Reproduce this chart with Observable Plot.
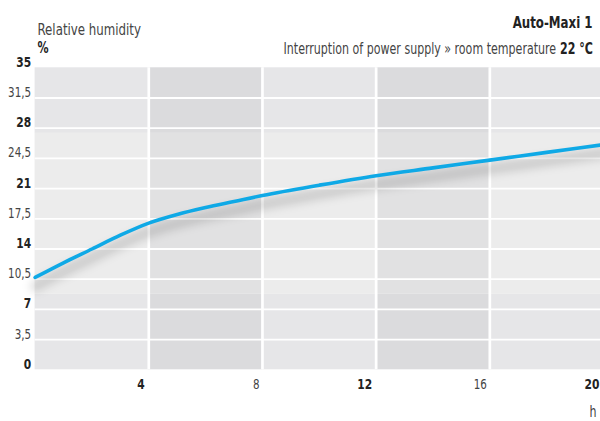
<!DOCTYPE html>
<html>
<head>
<meta charset="utf-8">
<script src="https://cdn.jsdelivr.net/npm/d3@7"></script>
<script src="https://cdn.jsdelivr.net/npm/@observablehq/plot@0.6"></script>
<style>
  html, body { margin: 0; padding: 0; background: #fff; overflow: hidden; }
  #chart svg { display: block; }
</style>
</head>
<body>
<div id="chart"></div>
<script>
// ---- data ----
const hours    = [0, 1, 2, 3, 4, 5, 6, 7, 8, 10, 12, 14, 16, 18, 20];
const humidity = [10.7, 12.4, 14.0, 15.6, 17.0, 18.0, 18.8, 19.5, 20.2, 21.4, 22.5, 23.4, 24.3, 25.2, 26.1];

const xTicksMajor = [4, 12, 20];
const xTicksMinor = [8, 16];
const yTicksMajor = [0, 7, 14, 21, 28, 35];
const yTicksMinor = [3.5, 10.5, 17.5, 24.5, 31.5];
const xBands = [0, 4, 8, 12, 16, 20];
const yBands = [0, 8.8, 27.4, 35];

const title = "Auto-Maxi 1";
const subtitle = "Interruption of power supply » room temperature";
const subtitleBold = "22 °C";
const yLabel = "Relative humidity";
const yUnit = "%";
const xUnit = "h";

// ---- derived tables ----
const points = hours.map((h, i) => ({h, v: humidity[i]}));
const cells = [];
for (let i = 0; i < xBands.length - 1; i++) {
  for (let j = 0; j < yBands.length - 1; j++) {
    cells.push({x1: xBands[i], x2: xBands[i + 1], y1: yBands[j], y2: yBands[j + 1], col: i % 2, row: j === 1 ? 1 : 0});
  }
}
const cellColor = c => c.row ? (c.col ? "#e1e1e2" : "#ececec") : (c.col ? "#dbdbdd" : "#e6e6e8");
const fmt = d => String(d).replace(".", ",");
const FONT = "'Liberation Sans Narrow', 'DejaVu Sans Condensed', 'Roboto', sans-serif";

const plot = Plot.plot({
  width: 600,
  height: 421,
  marginLeft: 34.6,
  marginRight: -3,
  marginTop: 67.3,
  marginBottom: 51.7,
  style: {fontFamily: FONT, background: "#fff", overflow: "visible"},
  x: {domain: [0, 20], axis: null},
  y: {domain: [0, 35], axis: null},
  marks: [
    Plot.rect(cells, {x1: "x1", x2: "x2", y1: "y1", y2: "y2", fill: cellColor}),
    Plot.ruleY([...yTicksMinor, ...yTicksMajor.filter(d => d > 0 && d < 35)], {stroke: "#fff", strokeWidth: 1.8}),
    Plot.ruleX(xTicksMajor.concat(xTicksMinor).filter(d => d < 20), {stroke: "#fff", strokeWidth: 2.7}),
    // shadow
    Plot.line(points, {x: "h", y: "v", curve: "monotone-x", stroke: "#010203", strokeOpacity: 0.14, strokeWidth: 10, dy: 9}),
    Plot.line(points, {x: "h", y: "v", curve: "monotone-x", stroke: "#0fa9e6", strokeWidth: 3.6}),
    // y tick labels
    Plot.text(yTicksMajor, {y: d => d, text: fmt, frameAnchor: "left", textAnchor: "end", lineAnchor: "bottom", dx: -4, dy: -1, fontSize: 14.5, fontWeight: "bold", fill: "#222"}),
    Plot.text(yTicksMinor, {y: d => d, text: fmt, frameAnchor: "left", textAnchor: "end", lineAnchor: "bottom", dx: -4, dy: -1, fontSize: 14, fill: "#444"}),
    // x tick labels
    Plot.text(xTicksMajor, {x: d => d, text: fmt, frameAnchor: "bottom", textAnchor: "end", lineAnchor: "middle", dx: -4, dy: 14.5, fontSize: 14.5, fontWeight: "bold", fill: "#222"}),
    Plot.text(xTicksMinor, {x: d => d, text: fmt, frameAnchor: "bottom", textAnchor: "end", lineAnchor: "middle", dx: -3, dy: 14.5, fontSize: 14, fill: "#444"}),
    // axis units
    Plot.text([xUnit], {text: d => d, frameAnchor: "bottom-right", textAnchor: "end", lineAnchor: "middle", dx: -7, dy: 42, fontSize: 15, fill: "#444"}),
    Plot.text([yLabel], {text: d => d, frameAnchor: "top-left", textAnchor: "start", lineAnchor: "middle", dx: 2.4, dy: -38, fontSize: 16, fill: "#444"}),
    Plot.text([yUnit], {text: d => d, frameAnchor: "top-left", textAnchor: "start", lineAnchor: "middle", dx: 2.4, dy: -19.5, fontSize: 15, fontWeight: "bold", fill: "#222"}),
    // title
    Plot.text([title], {text: d => d, frameAnchor: "top-right", textAnchor: "end", lineAnchor: "middle", dx: -11, dy: -45, fontSize: 16, fontWeight: "bold", fill: "#222"})
  ]
});

const svg = d3.select(plot);
document.getElementById("chart").appendChild(plot);

// subtitle: bold part anchored at the right, regular part placed left of it
const SUB_RIGHT = 593, SUB_Y = 49;
const subB = svg.append("text")
  .attr("x", SUB_RIGHT).attr("y", SUB_Y).attr("text-anchor", "end").attr("dy", "0.35em")
  .attr("font-size", 15).attr("font-weight", "bold").attr("fill", "#222").style("font-family", FONT)
  .text(subtitleBold);
const subR = svg.append("text")
  .attr("y", SUB_Y).attr("text-anchor", "end").attr("dy", "0.35em")
  .attr("font-size", 15).attr("fill", "#444").style("font-family", FONT)
  .text(subtitle);

// blur the shadow
svg.selectAll('[stroke="#010203"]').style("filter", "blur(4.5px)");

// condense all text horizontally to mimic a narrow typeface
const CONDENSE = 0.82;
function condense(node) {
  const x = +(node.getAttribute("x") || 0);
  const t = node.getAttribute("transform") || "";
  node.setAttribute("transform", `${t} translate(${x},0) scale(${CONDENSE},1) translate(${-x},0)`.trim());
}
svg.selectAll("text").each(function () { if (this !== subR.node()) condense(this); });
const boldW = subB.node().getComputedTextLength() * CONDENSE;
subR.attr("x", SUB_RIGHT - boldW - 4);
condense(subR.node());
</script>
</body>
</html>
